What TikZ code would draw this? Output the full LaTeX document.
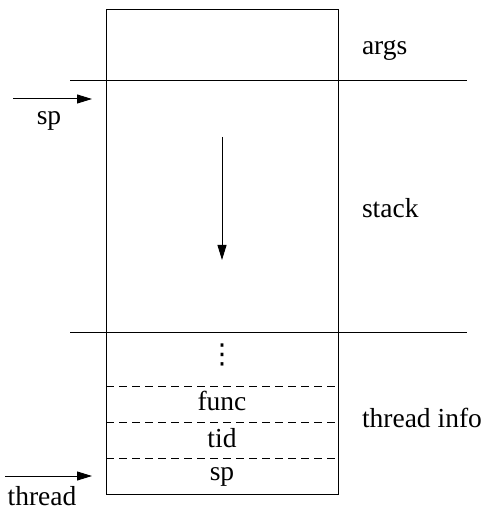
\documentclass[tikz,border=0pt]{standalone}
\usepackage{fontspec}
\setmainfont{Liberation Serif}
\newfontfamily\symfont{DejaVu Sans}
\usetikzlibrary{arrows.meta}
\begin{document}
\begin{tikzpicture}[x=0.5pt,y=-0.5pt,
  every node/.style={inner sep=0pt,outer sep=0pt,font=\fontsize{13.75}{16}\selectfont},
  ln/.style={line width=0.5pt},
  dsh/.style={line width=0.5pt,dash pattern=on 4pt off 2.5pt},
  arr/.style={line width=0.5pt,-{Triangle[length=7.5pt,width=4.5pt]}}]
\useasboundingbox (0,0) rectangle (483,512);
\draw[ln] (106,10) rectangle (338,494);
\coordinate (l1a) at (70,81); \coordinate (l1b) at (467,81);
\coordinate (l2a) at (70,332); \coordinate (l2b) at (467,332);
\draw[ln] (l1a) -- (l1b);
\draw[ln] (l2a) -- (l2b);
\coordinate (d1a) at (106,386); \coordinate (d1b) at (338,386);
\coordinate (d2a) at (106,422); \coordinate (d2b) at (338,422);
\coordinate (d3a) at (106,458); \coordinate (d3b) at (338,458);
\draw[dsh] (d1a) -- (d1b);
\draw[dsh] (d2a) -- (d2b);
\draw[dsh] (d3a) -- (d3b);
% stack arrow
\coordinate (s1) at (222,137); \coordinate (s2) at (222,260);
\draw[arr] (s1) -- (s2);
% sp arrow
\coordinate (sp1) at (13,99); \coordinate (sp2) at (92,99);
\draw[arr] (sp1) -- (sp2);
\node[anchor=base] (splbl) at (49,125) {sp};
% thread arrow
\coordinate (t1) at (5,476); \coordinate (t2) at (92,476);
\draw[arr] (t1) -- (t2);
\node[anchor=base] (thlbl) at (42,505) {thread};
% inner labels
\node (dots) at (222,355) {\symfont ⋮};
\node[anchor=base] (func) at (222,410) {func};
\node[anchor=base] (tid) at (222,447) {tid};
\node[anchor=base] (spin) at (222,480) {sp};
% right labels
\node[anchor=base west] (args) at (362,55) {args};
\node[anchor=base west] (stack) at (362,218) {stack};
\node[anchor=base west] (tinfo) at (362,427) {thread info};
\end{tikzpicture}
\end{document}
